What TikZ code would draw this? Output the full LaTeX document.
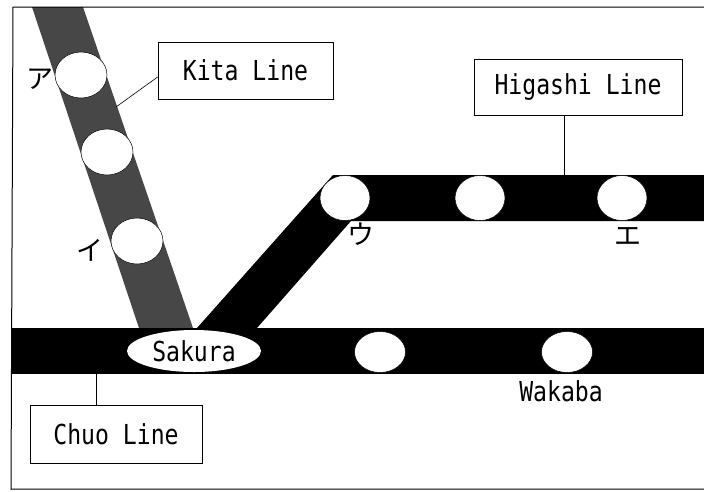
\documentclass[tikz,border=0pt]{standalone}
\usepackage{fontspec}
\setmainfont{DejaVu Sans Mono}[FakeStretch=0.84]
\newfontfamily\kanafont{Noto Sans CJK JP}
\usepackage{tikz}
\usetikzlibrary{calc, shapes.geometric, positioning}
\newcommand{\linefont}{\fontsize{27.5}{32}\selectfont}
\newcommand{\kana}[1]{{\kanafont\fontsize{27}{30}\selectfont #1}}
\tikzset{
    stationnode/.style = {draw=black, line width=0.5pt, fill=white, ellipse, inner sep = 0em,
      node distance=0em, minimum width=50pt, minimum height=44pt},
    boxnode/.style = {draw, rectangle, fill=white, line width=0.8pt, inner sep = 0em,
      node distance=0em, font=\linefont},
    textnode/.style  = {draw=none, fill=none, rectangle, inner sep = 0em,
      node distance=0em, font=\linefont},
    leader/.style = {black, line width=0.6pt}
}

\begin{document}
\begin{tikzpicture}[x=1pt, y=-1pt]
    \useasboundingbox (0,0) rectangle (704,491);

    % bands
    \fill[black!72] (32,7) -- (83,7) -- (193,328) -- (139,328) -- cycle;
    \fill[black] (197,328) -- (333,175) -- (704,175) -- (704,221) -- (351,221) -- (257,328) -- cycle;
    \fill[black] (12,328) rectangle (704,374);

    % stations
    \node [name = A, stationnode, minimum width=52pt, minimum height=46pt] at (81,75) {};
    \node [name = B, stationnode, minimum width=52pt, minimum height=46pt] at (107,152) {};
    \node [name = I, stationnode, minimum width=52pt, minimum height=46pt] at (137,241) {};
    \node [name = U, stationnode, minimum height=45pt] at (345,198) {};
    \node [name = H, stationnode, minimum height=45pt] at (480,198) {};
    \node [name = E, stationnode, minimum height=45pt] at (622,198) {};
    \node [name = Sakura, stationnode, draw=none, minimum width=134pt, minimum height=42pt,
        font=\linefont] at (194,351) {Sakura};
    \node [name = C, stationnode, minimum width=51pt, minimum height=41pt] at (380,352) {};
    \node [name = W, stationnode, minimum width=51pt, minimum height=41pt] at (567,352) {};

    \node [name = WakabaText, textnode, below of = W, xshift=-6pt, yshift=-39pt] {Wakaba};
    \node [name = KA, textnode, left of = A, xshift=-41pt, yshift=-4pt] {\kana{ア}};
    \node [name = KI, textnode, left of = I, xshift=-47pt, yshift=-9pt] {\kana{イ}};
    \node [name = KU, textnode, below of = U, xshift=16pt, yshift=-36pt] {\kana{ウ}};
    \node [name = KE, textnode, below of = E, xshift=6pt, yshift=-38pt] {\kana{エ}};

    % line names
    \node [name = KitaBox, boxnode, minimum width=175pt, minimum height=57pt] at (245.5,70.5) {Kita Line};
    \node [name = HigashiBox, boxnode, minimum width=208pt, minimum height=56pt] at (578,87) {Higashi Line};
    \node [name = ChuoBox, boxnode, minimum width=172pt, minimum height=58pt] at (116,434) {Chuo Line};

    \coordinate (KitaJoin) at (116,107);
    \coordinate (HigashiJoin) at (564,175);
    \coordinate (ChuoJoin) at (96,374);
    \draw[leader] ([yshift=-6.5pt]KitaBox.west) -- (KitaJoin);
    \draw[leader] ([xshift=-14pt]HigashiBox.south) -- (HigashiJoin);
    \draw[leader] ([xshift=-20pt]ChuoBox.north) -- (ChuoJoin);

    % frame
    \draw[line width=1pt] (704,7) -- (13,7) -- (11,489) -- (704,489);
\end{tikzpicture}
\end{document}
